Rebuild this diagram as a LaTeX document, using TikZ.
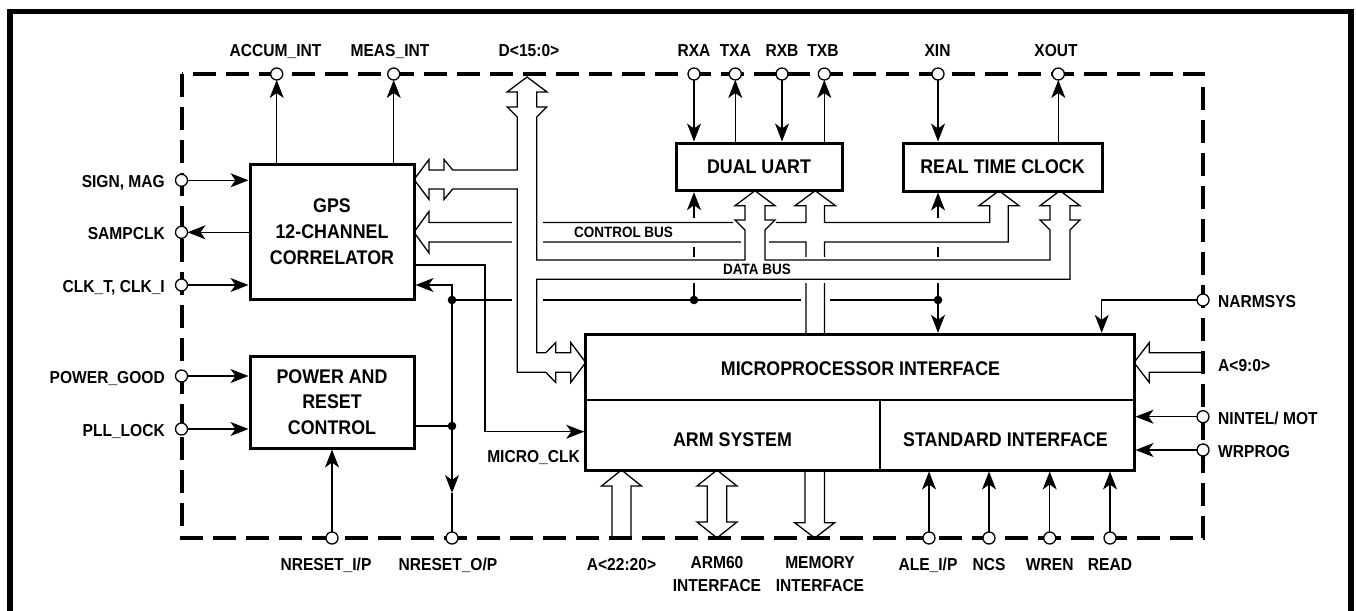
\documentclass[tikz,border=0pt]{standalone}
\usepackage{fontspec}
\setmainfont{Liberation Sans}[FakeStretch=0.9]
\usetikzlibrary{arrows.meta}
\newcommand{\pinfnt}{\fontsize{17.3}{20}\selectfont\bfseries}
\newcommand{\blkfnt}{\fontsize{19.8}{25.6}\selectfont\bfseries}
\newcommand{\busfnt}{\fontsize{15}{18}\selectfont\bfseries}
\tikzset{
  ln/.style={line width=1.3pt},
  arr/.style={line width=1.3pt, -{Stealth[length=18pt,width=14pt,inset=5pt]}},
  pinc/.style={circle, draw, line width=1.3pt, fill=white, minimum size=12pt, inner sep=0pt, outer sep=0pt},
  blk/.style={draw, line width=3pt, font=\blkfnt, align=center, inner sep=0pt},
  dotc/.style={circle, fill, minimum size=8.6pt, inner sep=0pt},
  busln/.style={line width=1.3pt, line join=miter},
  lbl/.style={font=\pinfnt, inner sep=0pt},
  mask/.style={fill=white},
}
\begin{document}
\begin{tikzpicture}[x=1pt,y=-1pt]
\useasboundingbox (0,0) rectangle (1356,610);
% outer frame
\draw[line width=5.5pt, line join=miter] (10,615) -- (10,11.5) -- (1351,11.5) -- (1351,615);
% dashed chip outline
\draw[line width=4pt, dash pattern=on 23pt off 10pt] (181.5,74) rectangle (1203,538);

% blocks
\node[blk, minimum width=164pt, minimum height=135.3pt] (gps) at (332,231.65) {GPS\\12-CHANNEL\\CORRELATOR};
\node[blk, minimum width=164pt, minimum height=92pt] (pwr) at (332,402) {POWER AND\\RESET\\CONTROL};
\node[blk, minimum width=166pt, minimum height=47.7pt] (uart) at (759,166.85) {DUAL UART};
\node[blk, minimum width=199pt, minimum height=48pt] (rtc) at (1002.5,167) {REAL TIME CLOCK};
\node[blk, minimum width=548.3pt, minimum height=135.7pt] (micro) at (859.85,402.15) {};
\draw[line width=1.6pt] (585.7,399.7) -- (1134,399.7);
\draw[line width=1.6pt] (880,399.7) -- (880,470);
\node[font=\blkfnt, inner sep=0pt] (tmi) at (860.5,369) {MICROPROCESSOR INTERFACE};
\node[font=\blkfnt, inner sep=0pt] (tarm) at (732.5,439.5) {ARM SYSTEM};
\node[font=\blkfnt, inner sep=0pt] (tstd) at (1005.5,439.5) {STANDARD INTERFACE};

% junction dots and helper coordinates
\node[dotc] (d1) at (452,300) {};
\node[dotc] (d2) at (452,426) {};
\node[dotc] (d3) at (694,300) {};
\node[dotc] (d4) at (938,300) {};
\coordinate (cR0) at (452,285);
\coordinate (cRm) at (452,493);
\coordinate (cClk1) at (485,265);
\coordinate (cClk2) at (485,431.7);
\coordinate (cNarm) at (1101.7,300);

% pins
\node[pinc] (pACC) at (276.7,74) {};
\node[pinc] (pMEAS) at (393.7,74) {};
\node[pinc] (pRXA) at (694,74) {};
\node[pinc] (pTXA) at (735.3,74) {};
\node[pinc] (pRXB) at (782,74) {};
\node[pinc] (pTXB) at (824.3,74) {};
\node[pinc] (pXIN) at (938,74) {};
\node[pinc] (pXOUT) at (1058.3,74) {};
\node[pinc] (pSIGN) at (181.5,180.3) {};
\node[pinc] (pSAMP) at (181.5,232.3) {};
\node[pinc] (pCLK) at (181.5,285) {};
\node[pinc] (pPG) at (181.5,376) {};
\node[pinc] (pPLL) at (181.5,429) {};
\node[pinc] (pNRI) at (332,538) {};
\node[pinc] (pNRO) at (452,538) {};
\node[pinc] (pALE) at (929,538) {};
\node[pinc] (pNCS) at (989,538) {};
\node[pinc] (pWREN) at (1049.7,538) {};
\node[pinc] (pREAD) at (1110,538) {};
\node[pinc] (pNARM) at (1203,300) {};
\node[pinc] (pNINT) at (1203,416.7) {};
\node[pinc] (pWRP) at (1203,450) {};

% reset network
\draw[ln] (d2 -| pwr.east) -- (d2.center);
\draw[arr] (d2.center) -- (cR0) -- (cR0 -| gps.east);
\draw[arr] (d2.center) -- (cRm);
\draw[ln] (cRm) -- (pNRO);
\draw[ln] (d1.center) -- (d4.center);
\draw[arr] (d3.center) -- (d3 |- uart.south);
\draw[arr] (d4.center) -- (d4 |- rtc.south);
\draw[arr] (d4.center) -- (d4 |- micro.north);

% gaps where control bus crosses
\fill[mask] (689,218.3) rectangle (699,246.7);
\fill[mask] (933,218.3) rectangle (943,246.7);
\fill[mask] (800.5,295) rectangle (829.5,305);

% control bus
\draw[busln] (806,334.3) -- (806,241.9) -- (429,241.9) -- (429,253) -- (414,232.2) -- (429,211.4) -- (429,222.5)
  -- (806,222.5) -- (806,205.7) -- (795,205.7) -- (815.2,190.7) -- (835.4,205.7) -- (824.4,205.7) -- (824.4,222.5)
  -- (989.7,222.5) -- (989.7,205.7) -- (979,205.7) -- (999,190.7) -- (1019,205.7) -- (1008.3,205.7) -- (1008.3,241.9)
  -- (824.4,241.9) -- (824.4,334.3);

% gaps where data bus crosses
\fill[mask] (511.5,215) rectangle (542.5,248);
\fill[mask] (511.5,295) rectangle (542.5,305);
\fill[mask] (541,256.5) rectangle (1075,283);
\fill[mask] (733,217.5) rectangle (776,228.5);
\fill[mask] (741,236) rectangle (769,247);

% data bus
\draw[busln] (517.3,372.2) -- (517.3,189) -- (452.7,189) -- (444,199.5) -- (444,189) -- (429,189) -- (429,199.5)
  -- (414,179.5) -- (429,159.5) -- (429,170) -- (444,170) -- (444,159.5) -- (452.7,170) -- (517.3,170)
  -- (517.3,117) -- (507.3,107) -- (517.3,107) -- (517.3,92) -- (507,92) -- (527,77) -- (547,92) -- (536.7,92)
  -- (536.7,107) -- (546.7,107) -- (536.7,117) -- (536.7,260) -- (745,260) -- (745,230) -- (735,220) -- (745,220)
  -- (745,205.7) -- (735,205.7) -- (755,190.7) -- (775,205.7) -- (765,205.7) -- (765,220) -- (775,220) -- (765,230)
  -- (765,260) -- (1050,260) -- (1050,230) -- (1040,220) -- (1050,220) -- (1050,205.7) -- (1040,205.7) -- (1060,190.7)
  -- (1080,205.7) -- (1070,205.7) -- (1070,220) -- (1080,220) -- (1070,230) -- (1070,279.3) -- (536.7,279.3)
  -- (536.7,352.8) -- (545.7,352.8) -- (555.7,342.5) -- (555.7,352.8) -- (570.7,352.8) -- (570.7,342.5) -- (585.7,362.5)
  -- (570.7,382.5) -- (570.7,372.2) -- (555.7,372.2) -- (555.7,382.5) -- (545.7,372.2) -- cycle;

% A<9:0> bus
\draw[busln] (1201.7,352.8) -- (1149.3,352.8) -- (1149.3,342.5) -- (1134,362.5) -- (1149.3,382.5) -- (1149.3,372.2) -- (1201.7,372.2);
% A<22:20> bus
\draw[busln] (612,538) -- (612,486) -- (601.5,486) -- (621.5,470) -- (641.5,486) -- (631,486) -- (631,538);
% ARM60 interface bus
\draw[busln] (707.3,486) -- (697,486) -- (717,470) -- (737,486) -- (726.7,486) -- (726.7,522) -- (737,522) -- (717,538) -- (697,522) -- (707.3,522) -- cycle;
% memory interface bus
\draw[busln] (805,470) -- (805,522.7) -- (794.7,522.7) -- (814.7,538) -- (834.7,522.7) -- (824.4,522.7) -- (824.4,470);

% MICRO_CLK
\draw[arr] (cClk1 -| gps.east) -- (cClk1) -- (cClk2) -- (cClk2 -| micro.west);

% GPS pins
\draw[arr] (gps.north -| pACC) -- (pACC);
\draw[arr] (gps.north -| pMEAS) -- (pMEAS);
\draw[arr] (pSIGN) -- (pSIGN -| gps.west);
\draw[arr] (pSAMP -| gps.west) -- (pSAMP);
\draw[arr] (pCLK) -- (pCLK -| gps.west);
% power pins
\draw[arr] (pPG) -- (pPG -| pwr.west);
\draw[arr] (pPLL) -- (pPLL -| pwr.west);
\draw[arr] (pNRI) -- (pwr.south);
% uart / rtc pins
\draw[arr] (pRXA) -- (pRXA |- uart.north);
\draw[arr] (pTXA |- uart.north) -- (pTXA);
\draw[arr] (pRXB) -- (pRXB |- uart.north);
\draw[arr] (pTXB |- uart.north) -- (pTXB);
\draw[arr] (pXIN) -- (pXIN |- rtc.north);
\draw[arr] (pXOUT |- rtc.north) -- (pXOUT);
% micro pins
\draw[arr] (pNARM) -- (cNarm) -- (cNarm |- micro.north);
\draw[arr] (pNINT) -- (pNINT -| micro.east);
\draw[arr] (pWRP) -- (pWRP -| micro.east);
\draw[arr] (pALE) -- (pALE |- micro.south);
\draw[arr] (pNCS) -- (pNCS |- micro.south);
\draw[arr] (pWREN) -- (pWREN |- micro.south);
\draw[arr] (pREAD) -- (pREAD |- micro.south);

% bus labels
\node[font=\busfnt, inner sep=0pt] (lcb) at (623.5,232.8) {CONTROL BUS};
\node[font=\busfnt, inner sep=0pt] (ldb) at (757,269.7) {DATA BUS};

% top labels
\node[lbl, anchor=base] (tACC) at (275.5,56.7) {ACCUM\_INT};
\node[lbl, anchor=base] (tMEAS) at (390,56.7) {MEAS\_INT};
\node[lbl, anchor=base] (tD) at (529,56.7) {D<15:0>};
\node[lbl, anchor=base] (tRXA) at (694,56.7) {RXA};
\node[lbl, anchor=base] (tTXA) at (735.5,56.7) {TXA};
\node[lbl, anchor=base] (tRXB) at (782,56.7) {RXB};
\node[lbl, anchor=base] (tTXB) at (823,56.7) {TXB};
\node[lbl, anchor=base] (tXIN) at (937.5,56.7) {XIN};
\node[lbl, anchor=base] (tXOUT) at (1056,56.7) {XOUT};
% left labels
\node[lbl, anchor=base east] (tSIGN) at (165,187.3) {SIGN, MAG};
\node[lbl, anchor=base east] (tSAMP) at (165,239.3) {SAMPCLK};
\node[lbl, anchor=base east] (tCLK) at (165,292) {CLK\_T, CLK\_I};
\node[lbl, anchor=base east] (tPG) at (165,383) {POWER\_GOOD};
\node[lbl, anchor=base east] (tPLL) at (165,436) {PLL\_LOCK};
% right labels
\node[lbl, anchor=base west] (tNARM) at (1218,307.5) {NARMSYS};
\node[lbl, anchor=base west] (tA9) at (1218,371) {A<9:0>};
\node[lbl, anchor=base west] (tNINT) at (1218,424) {NINTEL/ MOT};
\node[lbl, anchor=base west] (tWRP) at (1218,457.3) {WRPROG};
% bottom labels
\node[lbl, anchor=base] (tNRI) at (326,570.5) {NRESET\_I/P};
\node[lbl, anchor=base] (tNRO) at (448,570.5) {NRESET\_O/P};
\node[lbl, anchor=base] (tA22) at (621.5,570.5) {A<22:20>};
\node[lbl, anchor=north, align=center, font=\fontsize{17.3}{22.5}\selectfont\bfseries] (tARM) at (717,556.7) {ARM60\\INTERFACE};
\node[lbl, anchor=north, align=center, font=\fontsize{17.3}{22.5}\selectfont\bfseries] (tMEM) at (820,556.7) {MEMORY\\INTERFACE};
\node[lbl, anchor=base] (tALE) at (928,570.5) {ALE\_I/P};
\node[lbl, anchor=base] (tNCS) at (989,570.5) {NCS};
\node[lbl, anchor=base] (tWREN) at (1049.7,570.5) {WREN};
\node[lbl, anchor=base] (tREAD) at (1110,570.5) {READ};
\node[lbl, anchor=base east] (tMCLK) at (580,462.3) {MICRO\_CLK};
\end{tikzpicture}
\end{document}
